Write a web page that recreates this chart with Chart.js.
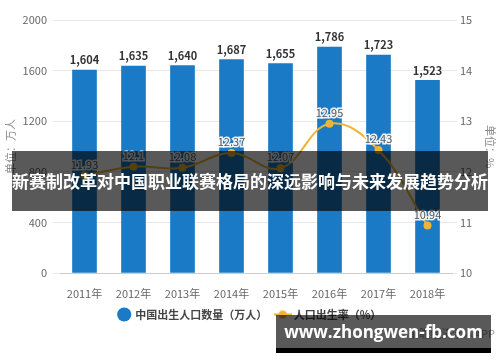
<!DOCTYPE html>
<html lang="zh">
<head>
<meta charset="UTF-8">
<title>中国出生人口数量及人口出生率</title>
<script src="https://cdn.jsdelivr.net/npm/chart.js"></script>
<style>
  body { margin: 0; background: #fff; }
  #wrap { position: relative; width: 500px; height: 362px; overflow: hidden; }
  #banner {
    position: absolute; left: 12px; top: 151px; width: 476px; height: 60px;
    background: rgba(0,0,0,0.65); color: #fff;
    font: bold 17px "Noto Sans CJK SC", sans-serif;
    line-height: 60px; text-align: center; white-space: nowrap;
  }
  #appMark {
    position: absolute; right: 5px; top: 325px;
    font: 11px "Noto Sans CJK SC", sans-serif; color: #999;
  }
  #site {
    position: absolute; left: 276px; top: 315px; width: 215px; height: 33px;
    background: rgba(0,0,0,0.65); color: #fff; border-bottom: 5px solid #000;
    font: bold 17px "Open Sans", sans-serif; line-height: 33px; text-align: center;
  }
</style>
</head>
<body>
<div id="wrap">
  <canvas id="chart" width="500" height="362"></canvas>
  <div id="appMark">前瞻经济学人APP</div>
  <div id="banner">新赛制改革对中国职业联赛格局的深远影响与未来发展趋势分析</div>
  <div id="site">www.zhongwen-fb.com</div>
</div>
<script>
  const years = ['2011年', '2012年', '2013年', '2014年', '2015年', '2016年', '2017年', '2018年'];
  const births = [1604, 1635, 1640, 1687, 1655, 1786, 1723, 1523];
  const birthRate = [11.93, 12.1, 12.08, 12.37, 12.07, 12.95, 12.43, 10.94];
  const barLabel = '中国出生人口数量（万人）';
  const lineLabel = '人口出生率（%）';

  const BLUE = '#1a7ac5';
  const GOLD = '#efb434';
  const FONT = '"Noto Sans CJK SC", sans-serif';

  // legend icon for the line series: short line with a dot
  const lineIcon = document.createElement('canvas');
  lineIcon.width = 18; lineIcon.height = 10;
  (function () {
    const c = lineIcon.getContext('2d');
    c.strokeStyle = GOLD; c.lineWidth = 2;
    c.beginPath(); c.moveTo(0, 5); c.lineTo(18, 5); c.stroke();
    c.fillStyle = GOLD;
    c.beginPath(); c.arc(9, 5, 4, 0, Math.PI * 2); c.fill();
  })();

  const valueLabels = {
    id: 'valueLabels',
    afterDatasetsDraw(chart) {
      const ctx = chart.ctx;
      ctx.save();
      ctx.textAlign = 'center';
      ctx.textBaseline = 'middle';
      chart.getDatasetMeta(0).data.forEach((bar, i) => {
        ctx.font = 'bold 11px ' + FONT;
        ctx.fillStyle = '#333';
        ctx.fillText(births[i].toLocaleString('en-US'), bar.x, bar.y - 10);
      });
      chart.getDatasetMeta(1).data.forEach((pt, i) => {
        ctx.font = '11px ' + FONT;
        ctx.lineWidth = 3;
        ctx.strokeStyle = 'rgba(255,255,255,0.9)';
        ctx.strokeText(String(birthRate[i]), pt.x, pt.y - 11);
        ctx.fillStyle = '#555';
        ctx.fillText(String(birthRate[i]), pt.x, pt.y - 11);
      });
      ctx.restore();
    }
  };

  new Chart(document.getElementById('chart'), {
    data: {
      labels: years,
      datasets: [
        {
          type: 'bar', label: barLabel, data: births, yAxisID: 'y',
          backgroundColor: BLUE, barThickness: 24, order: 1
        },
        {
          type: 'line', label: lineLabel, data: birthRate, yAxisID: 'y1',
          borderColor: GOLD, backgroundColor: GOLD, borderWidth: 2,
          pointRadius: 4, pointBackgroundColor: GOLD, pointBorderWidth: 0,
          tension: 0.4, order: 0
        }
      ]
    },
    options: {
      responsive: false,
      animation: false,
      layout: { padding: { top: 20, bottom: 32 } },
      plugins: {
        tooltip: { enabled: false },
        legend: {
          position: 'bottom',
          labels: {
            usePointStyle: true,
            boxHeight: 10,
            padding: 10,
            color: '#444',
            font: { family: FONT, size: 11, weight: 'bold' },
            sort: (a, b) => a.datasetIndex - b.datasetIndex,
            generateLabels(chart) {
              const items = Chart.defaults.plugins.legend.labels.generateLabels(chart);
              items.forEach(it => {
                if (it.datasetIndex === 1) it.pointStyle = lineIcon;
                else { it.pointStyle = 'circle'; it.fillStyle = BLUE; it.strokeStyle = BLUE; }
              });
              return items;
            }
          }
        }
      },
      scales: {
        x: {
          grid: { display: false },
          border: { color: '#ccc' },
          ticks: { color: '#666', font: { family: FONT, size: 11 }, padding: 6 },
          afterFit(s) { s.height = 26; }
        },
        y: {
          position: 'left', min: 0, max: 2000,
          ticks: { stepSize: 400, color: '#666', font: { family: FONT, size: 11 }, padding: 6,
                   callback: v => String(v) },
          grid: { color: '#e8e8e8', tickLength: 7 },
          border: { display: false },
          title: { display: true, text: '单位：万人', color: '#888', font: { family: FONT, size: 11 }, padding: 4 },
          afterFit(s) { s.width = 60; }
        },
        y1: {
          position: 'right', min: 10, max: 15,
          ticks: { stepSize: 1, color: '#666', font: { family: FONT, size: 11 }, padding: 3 },
          grid: { drawOnChartArea: false, color: '#e8e8e8', tickLength: 5 },
          border: { display: false },
          title: { display: true, text: '单位：%', color: '#888', font: { family: FONT, size: 11 }, padding: 3 },
          afterFit(s) { s.width = 48; }
        }
      }
    },
    plugins: [valueLabels]
  });
</script>
</body>
</html>
